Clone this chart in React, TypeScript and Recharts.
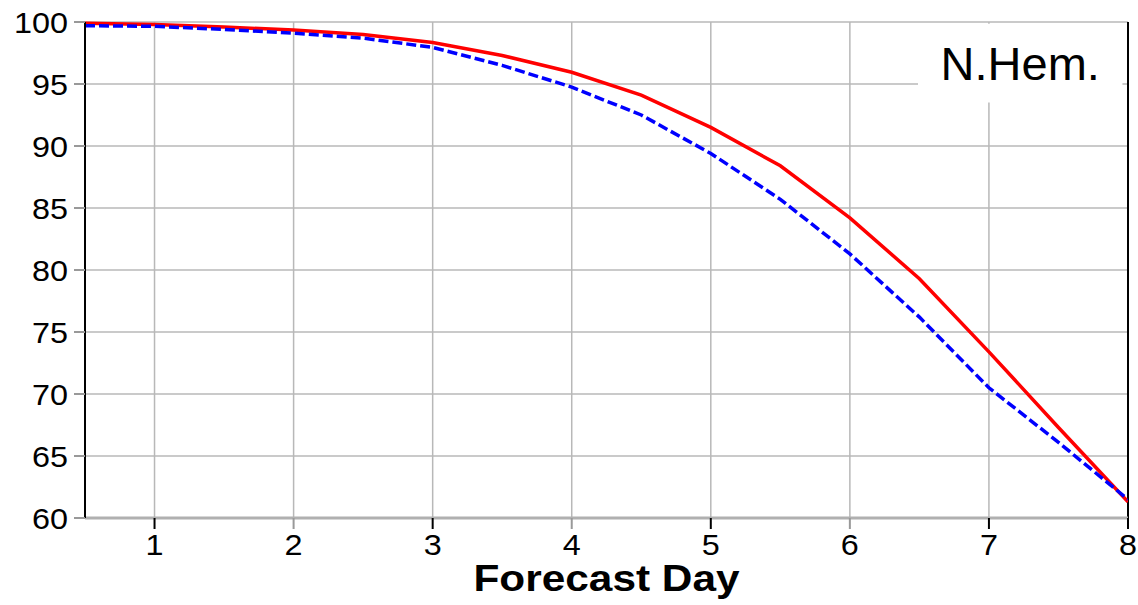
import {
  LineChart,
  Line,
  XAxis,
  YAxis,
  CartesianGrid,
  ReferenceLine,
  ReferenceArea,
} from "recharts";

const days = [0.5, 1, 1.5, 2, 2.5, 3, 3.5, 4, 4.5, 5, 5.5, 6, 6.5, 7, 7.5, 8];
const redScores = [99.9, 99.8, 99.6, 99.35, 99.0, 98.35, 97.3, 95.95, 94.1, 91.5, 88.4, 84.2, 79.3, 73.4, 67.3, 61.3];
const blueScores = [99.7, 99.65, 99.4, 99.1, 98.7, 97.95, 96.5, 94.75, 92.5, 89.4, 85.7, 81.3, 76.2, 70.5, 66.1, 61.5];
const xTicks = [1, 2, 3, 4, 5, 6, 7, 8];
const yTicks = [60, 65, 70, 75, 80, 85, 90, 95, 100];

const chartData = days.map((d, i) => ({ day: d, red: redScores[i], blue: blueScores[i] }));

const FONT = "'Liberation Sans', Arial, Helvetica, sans-serif";
const DIGIT_W = 18;

// x ticks: odd days and the last one get a black tick, the others a grey one
function DayTick(props: any) {
  const { x, y, payload } = props;
  const v = payload.value;
  const dark = v % 2 === 1 || v === 8;
  const s = String(v);
  return (
    <g>
      <line x1={x} y1={y} x2={x} y2={y + 11} stroke={dark ? "#000" : "#999"} strokeWidth={2} />
      <text
        x={x}
        y={y + 37}
        textAnchor="middle"
        fontSize={30}
        fontFamily={FONT}
        textLength={s.length * DIGIT_W}
        lengthAdjust="spacingAndGlyphs"
        fill="#000"
      >
        {s}
      </text>
    </g>
  );
}

function ScoreTick(props: any) {
  const { x, y, payload } = props;
  const s = String(payload.value);
  return (
    <text
      x={x + 2}
      y={y + 11}
      textAnchor="end"
      fontSize={30}
      fontFamily={FONT}
      textLength={s.length * DIGIT_W}
      lengthAdjust="spacingAndGlyphs"
      fill="#000"
    >
      {s}
    </text>
  );
}

function AxisTitle(props: any) {
  const { viewBox } = props;
  const cx = viewBox.x + viewBox.width / 2;
  return (
    <text
      x={cx}
      y={viewBox.y + 73}
      textAnchor="middle"
      fontSize={36}
      fontWeight="bold"
      fontFamily={FONT}
      textLength={266}
      lengthAdjust="spacingAndGlyphs"
      fill="#000"
    >
      Forecast Day
    </text>
  );
}

function RegionLabel(props: any) {
  const { viewBox } = props;
  return (
    <text
      x={viewBox.x + viewBox.width / 2}
      y={viewBox.y + viewBox.height / 2 + 17}
      textAnchor="middle"
      fontSize={47}
      fontFamily={FONT}
      fill="#000"
    >
      N.Hem.
    </text>
  );
}

export default function App() {
  return (
    <div style={{ position: "absolute", left: 0, top: 0, width: 1138, height: 605, background: "#fff" }}>
      <LineChart width={1138} height={605} data={chartData} margin={{ top: 22, right: 10, bottom: 0, left: 0 }}>
        <CartesianGrid stroke="#b8b8b8" strokeWidth={1.5} />
        <XAxis
          dataKey="day"
          type="number"
          domain={[0.5, 8]}
          ticks={xTicks}
          allowDataOverflow
          height={87}
          axisLine={{ stroke: "#b0b0b0", strokeWidth: 3 }}
          tickLine={false}
          tickSize={0}
          tickMargin={0}
          tick={<DayTick />}
          label={<AxisTitle />}
        />
        <YAxis
          type="number"
          domain={[60, 100]}
          ticks={yTicks}
          width={85}
          tickSize={11}
          tickMargin={8}
          axisLine={{ stroke: "#000", strokeWidth: 2 }}
          tickLine={{ stroke: "#999", strokeWidth: 2 }}
          tick={<ScoreTick />}
        />
        <ReferenceLine x={8} stroke="#000" strokeWidth={2} />
        <ReferenceArea
          x1={6.49}
          x2={7.96}
          y1={93.5}
          y2={99.85}
          fill="#fff"
          fillOpacity={1}
          stroke="none"
          label={<RegionLabel />}
        />
        <Line
          type="linear"
          dataKey="red"
          stroke="#ff0000"
          strokeWidth={3.5}
          dot={false}
          isAnimationActive={false}
        />
        <Line
          type="linear"
          dataKey="blue"
          stroke="#0000ff"
          strokeWidth={3.5}
          strokeDasharray="10 4"
          dot={false}
          isAnimationActive={false}
        />
      </LineChart>
    </div>
  );
}
